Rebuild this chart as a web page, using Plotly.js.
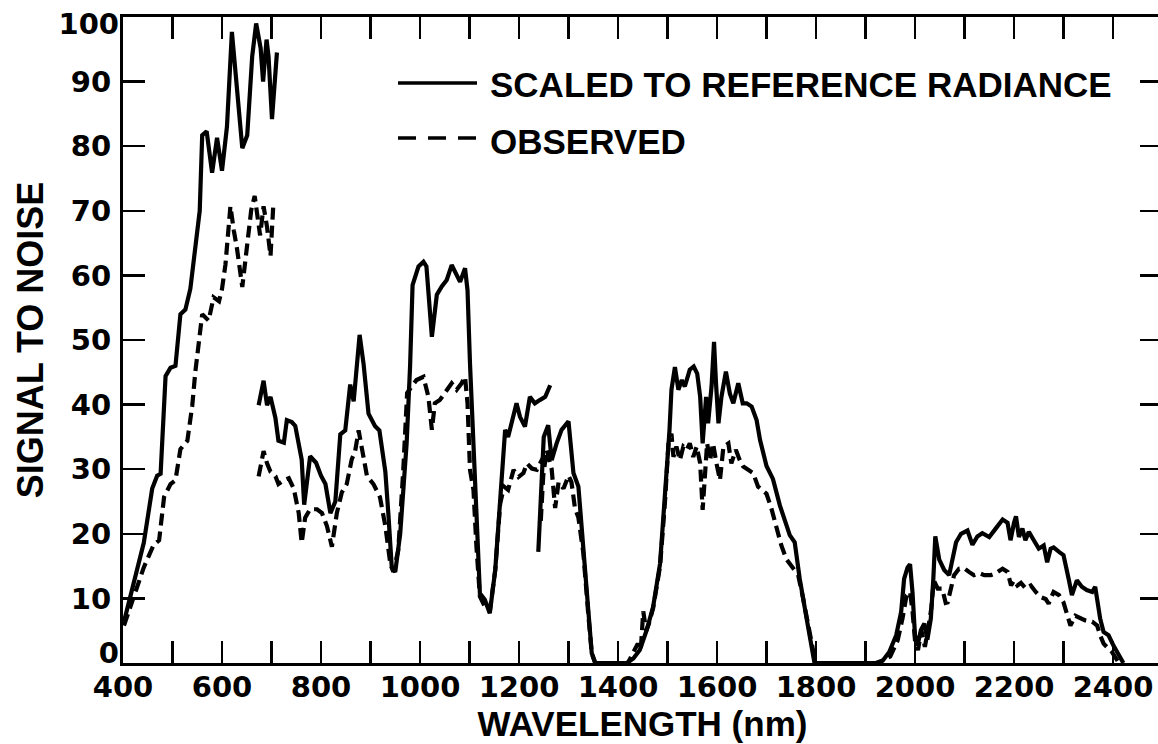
<!DOCTYPE html>
<html>
<head>
<meta charset="utf-8">
<script src="https://cdn.plot.ly/plotly-3.0.1.min.js"></script>
<style>
html, body { margin: 0; padding: 0; overflow: hidden; background: #fff; }
#chart { width: 1162px; height: 744px; }
</style>
</head>
<body>
<div id="chart"></div>
<script>
// ---- Data (wavelength in nm, signal-to-noise) ----
// Spectrometer A (visible)
var scaledA_wl = [402,422,442,459,469,476,486,496,506,516,526,536,546,555,560,569,580,590,600,610,620,631,641,651,661,669,678,683,690,694,701,711];
var scaledA_sn = [6.4,12.2,18.6,27,29,29.3,44.4,45.7,46,54,54.7,57.9,63.7,70,81.7,82.3,75.9,81.3,76.2,83,97.7,88.7,79.7,81.7,93.9,99,95.2,90,96.5,93.9,84.2,94.5];
var observedA_wl = [402,422,442,462,473,483,496,506,516,530,540,546,553,560,573,583,594,600,607,617,624,630,641,651,659,666,673,677,684,691,698,704];
var observedA_sn = [5.8,10.3,14.8,18.3,19,25.7,27.7,28.3,33.1,34.4,39.9,45,50.2,54,53,56.6,56,57.9,61.7,70.7,66.9,64.3,58.2,64.3,70.1,72.3,68.2,66.2,70.7,67.5,63,71.4];

// Spectrometer B
var scaledB_wl = [674,684,691,698,708,714,725,731,741,748,761,766,778,790,800,809,819,829,839,849,859,866,878,886,896,909,918,930,936,943,950,960,973,980,985,997,1007,1013,1024,1034,1044,1054,1064,1074,1081,1091,1096,1101,1108,1114,1121,1131,1141,1152,1162,1172,1178,1185,1195,1202,1212,1222,1232,1242,1253,1263];
var scaledB_sn = [39.9,43.7,39.9,41.2,37.9,34.4,34.1,37.6,37.3,36.7,31.5,24.5,32,31,29,27.7,23.2,25,35.4,36,43.1,40.5,50.8,46.3,38.6,36.7,36,29.6,23.2,14.8,14.1,20,34,46,58.5,61.4,62.1,61.4,50.5,57,58.3,59.3,61.6,60,59,61.1,57.7,46.4,33.5,22.1,10.8,9.8,7.7,14.4,24.7,36.1,35,37.1,40.2,38.1,36.6,41.2,40.2,40.7,41.2,43];
var observedB_wl = [674,684,691,698,708,714,725,735,745,755,761,768,778,792,802,812,822,832,842,852,862,869,876,883,893,906,919,930,940,946,956,966,974,986,993,1007,1017,1024,1030,1040,1054,1064,1074,1084,1091,1096,1101,1108,1114,1121,1131,1141,1152,1162,1170,1178,1189,1199,1209,1216,1226,1236,1246,1256];
var observedB_sn = [28.9,32.8,30.9,29.6,28.9,27.7,28.3,28.6,27,23.2,18.6,22.5,23.8,23.8,23.2,21.2,18,23.2,26.4,27.7,31.5,32.8,36,33.4,28.9,27.7,25.7,21.2,15.4,14.1,17.4,29.6,41.8,43.1,43.8,44.3,41.2,36.1,40.2,40.7,42.3,43.3,42.3,43.3,44.3,40.2,29.9,26.8,18,10.3,8.7,8,14.4,24.7,27.3,26.8,29.9,28.8,29.4,30.9,30.1,29.9,31.4,31];

// Spectrometer C
var scaledC_wl = [1239,1246,1250,1259,1266,1276,1286,1300,1310,1320,1330,1340,1347,1354,1418,1431,1444,1458,1471,1485,1495,1504,1508,1515,1522,1529,1535,1545,1553,1560,1566,1571,1578,1582,1589,1594,1598,1603,1609,1618,1626,1633,1643,1652,1660,1670,1680,1687,1700,1713,1727,1747,1757,1767,1781,1791,1797,1850];
var scaledC_sn = [17.2,28.3,35,36.8,31.4,34,36.1,37.4,29.4,27.3,18,7.7,1.5,0,0,0.7,2,5.1,8.7,15.4,25.7,36,42.3,45.8,42.3,43.8,42.8,45.4,45.9,44.8,41.2,34,41.2,37.1,42.8,49.7,43.3,37.1,41.2,45.1,41.7,40.2,43.3,40.2,40.2,39.7,37.6,34.5,30.5,28.5,24.4,19.8,18.7,13.1,6.9,2.7,0,0];
var observedC_wl = [1244,1249,1256,1266,1273,1280,1290,1300,1306,1313,1320,1330,1340,1347,1354,1420,1430,1440,1446,1451,1457,1462,1471,1485,1495,1502,1508,1512,1518,1525,1532,1539,1545,1552,1559,1566,1571,1576,1580,1586,1592,1599,1606,1613,1623,1629,1638,1646,1653,1663,1673,1683,1700,1710,1720,1730,1740,1754,1764,1774,1784,1794,1799,1850];
var observedC_sn = [22,29,33,30,24,28,27,29,28,24,22.5,17,7.5,1.5,0,0,1.5,3,2,8,5,6,8.5,15,25,34,35.5,31.9,33.5,31.4,33.5,33,34,31.9,33.5,30.9,23.7,30.9,34,31.4,34,30.9,28.3,33.5,34,30.9,33,31.4,30.4,29.9,29.4,27.3,26.2,23.9,20.8,18.2,16.1,14.6,13.6,10,5.8,1.7,0,0];

// Spectrometer D
var scaledD_wl = [1840,1921,1935,1948,1962,1972,1978,1985,1990,1995,2000,2005,2012,2019,2025,2032,2037,2041,2049,2059,2069,2076,2083,2093,2106,2116,2126,2136,2150,2163,2177,2187,2193,2200,2204,2210,2217,2223,2230,2240,2250,2260,2267,2274,2280,2291,2300,2311,2317,2327,2337,2347,2358,2364,2374,2381,2391,2401,2411,2421];
var scaledD_sn = [0,0,0.4,1.7,4.3,7.9,13,14.8,15.3,10.9,4.3,2.7,5.1,6.1,3.6,6.9,13,19.6,16,14.4,13.6,16.5,18.7,20,20.5,18.3,19.6,20.1,19.5,20.8,22.2,21.7,19,21.7,22.7,19.5,20.8,19,20.3,19,17.7,18.2,15.6,17.7,17.9,17.2,16.7,12.8,10.5,12.8,11.8,11.3,11,11.8,6.9,4.8,4.3,2.7,1.2,0];
var observedD_wl = [1840,1925,1950,1965,1975,1983,1990,1995,2000,2006,2013,2020,2027,2033,2038,2046,2055,2062,2066,2072,2079,2089,2099,2109,2119,2130,2140,2153,2163,2177,2187,2194,2200,2207,2214,2224,2234,2244,2254,2264,2270,2280,2291,2300,2307,2314,2324,2334,2344,2358,2368,2374,2381,2391,2398,2408,2412];
var observedD_sn = [0,0,1,3.5,7,10.5,11,8,3.5,2,5,2.5,5.5,8.5,12.8,11.5,11.5,9.3,9.4,11.5,13.6,14.6,14.7,14.1,13.6,13.9,13.6,13.6,13.9,14.6,14.1,12,12.8,12,12.4,11.5,12,11,10.2,9.9,9.2,11,10.5,9.4,7.3,5.8,7.3,6.9,6.6,6.4,5.8,4.3,3,2.2,1.7,0.5,0];

// Tick labels
var yTickVals = [10, 20, 30, 40, 50, 60, 70, 80, 90];
var yTickText = ["10", "20", "30", "40", "50", "60", "70", "80", "90"];
var yEndTickText = ["0", "100"];
var legendLabels = ["SCALED TO REFERENCE RADIANCE", "OBSERVED"];
var xTitle = "WAVELENGTH (nm)";
var yTitle = "SIGNAL TO NOISE";

// ---- Styling ----
var FONT = "Liberation Sans, Arial, Helvetica, sans-serif";
var TICKFONT = "DejaVu Sans, Liberation Sans, sans-serif";
var solidLine = {color: "#000", width: 4.2};
var dashLine = {color: "#000", width: 4.2, dash: "12px,6px"};
// end labels sit just inside the axis ends, as in the original
var yEndTickPos = [1.6, 98.9];

function seg(x, y, line) {
  return {x: x, y: y, type: "scatter", mode: "lines", line: line,
          showlegend: false, hoverinfo: "skip"};
}

var traces = [
  seg(observedA_wl, observedA_sn, dashLine),
  seg(observedB_wl, observedB_sn, dashLine),
  seg(observedC_wl, observedC_sn, dashLine),
  seg(observedD_wl, observedD_sn, dashLine),
  seg(scaledA_wl, scaledA_sn, solidLine),
  seg(scaledB_wl, scaledB_sn, solidLine),
  seg(scaledC_wl, scaledC_sn, solidLine),
  seg(scaledD_wl, scaledD_sn, solidLine),
  {x: [], y: [], type: "scatter", mode: "lines", yaxis: "y2", showlegend: false, hoverinfo: "skip"}
];

var tickFont = {family: TICKFONT, size: 29, color: "#000", weight: 700};
var titleFont = {family: FONT, size: 35, color: "#000", weight: 700};
var yTitleFont = {family: FONT, size: 36, color: "#000", weight: 700};

var layout = {
  width: 1162, height: 744,
  margin: {l: 123, r: 0, t: 17, b: 81},
  paper_bgcolor: "#fff", plot_bgcolor: "#fff",
  showlegend: false,
  xaxis: {
    range: [400, 2499], tick0: 400, dtick: 200,
    ticks: "inside", ticklen: 22, tickwidth: 2.5, tickcolor: "#000",
    minor: {tick0: 400, dtick: 100, ticks: "inside", ticklen: 22, tickwidth: 2.5, tickcolor: "#000", showgrid: false},
    showline: true, linewidth: 3, linecolor: "#000", mirror: "ticks",
    showgrid: false, zeroline: false,
    tickfont: tickFont, ticklabelstandoff: -4, ticklabeloverflow: "allow",
    title: {text: xTitle, font: titleFont, standoff: 9}
  },
  yaxis: {
    range: [0, 100], tickmode: "array", tickvals: yTickVals, ticktext: yTickText,
    ticks: "inside", ticklen: 22, tickwidth: 2.5, tickcolor: "#000",
    showline: true, linewidth: 3, linecolor: "#000", mirror: "ticks",
    showgrid: false, zeroline: false,
    tickfont: tickFont, ticklabelstandoff: 3, ticklabeloverflow: "allow",
    title: {text: yTitle, font: yTitleFont, standoff: 17}
  },
  yaxis2: {
    overlaying: "y", side: "left", anchor: "x",
    range: [0, 100], tickmode: "array", tickvals: yEndTickPos, ticktext: yEndTickText,
    ticks: "", showline: false, showgrid: false, zeroline: false,
    tickfont: tickFont, ticklabelstandoff: 3, ticklabeloverflow: "allow"
  },
  shapes: [
    {type: "line", xref: "paper", yref: "paper", x0: 0.2647, x1: 0.3407, y0: 0.8978, y1: 0.8978,
     line: {color: "#000", width: 3.4}},
    {type: "line", xref: "paper", yref: "paper", x0: 0.2647, x1: 0.3407, y0: 0.8127, y1: 0.8127,
     line: {color: "#000", width: 3.4, dash: "18px,12px"}}
  ],
  annotations: [
    {xref: "paper", yref: "paper", x: 0.3513, y: 0.8960, xanchor: "left", yanchor: "middle",
     text: legendLabels[0], showarrow: false, font: titleFont},
    {xref: "paper", yref: "paper", x: 0.3513, y: 0.8080, xanchor: "left", yanchor: "middle",
     text: legendLabels[1], showarrow: false, font: titleFont}
  ]
};

Plotly.newPlot("chart", traces, layout, {displayModeBar: false, staticPlot: true});
</script>
</body>
</html>
